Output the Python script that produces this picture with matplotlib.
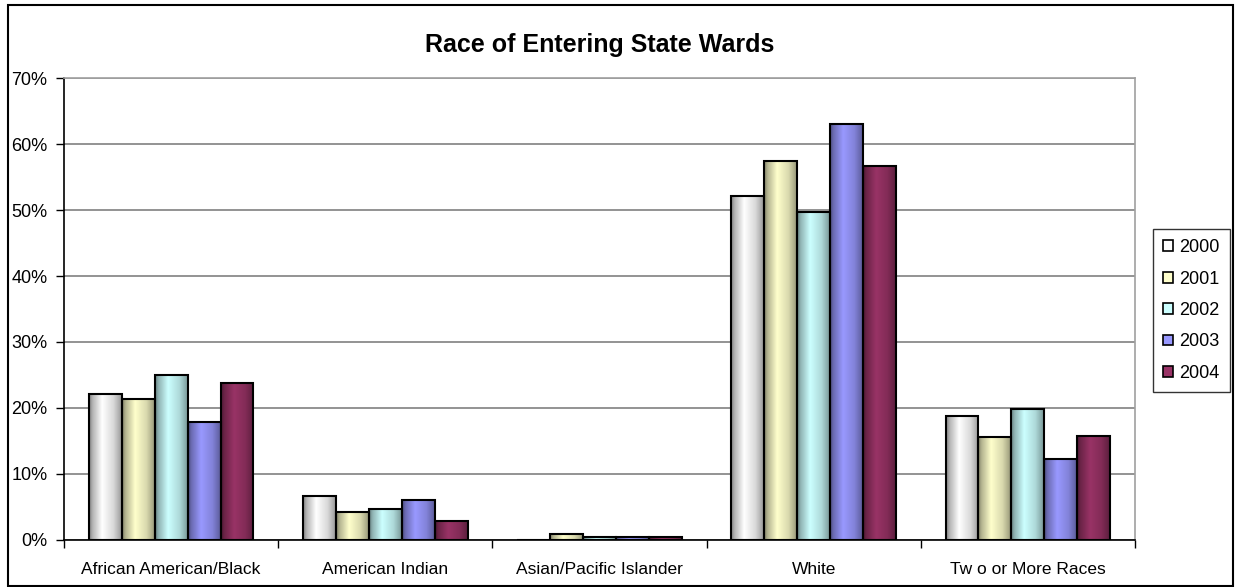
import numpy as np
import matplotlib
matplotlib.use("Agg")
import matplotlib.pyplot as plt
import matplotlib.patches as patches
from matplotlib.colors import to_rgb

plt.rcParams['font.family'] = ['Liberation Sans', 'DejaVu Sans']

categories = ["African American/Black", "American Indian", "Asian/Pacific Islander",
              "White", "Tw o or More Races"]
years = ["2000", "2001", "2002", "2003", "2004"]
colors = ["#FFFFFF", "#FFFFCC", "#CCFFFF", "#9999FF", "#993366"]

# percent of entering state wards, one list per year
v2000 = [22.1, 6.6, 0.0, 52.1, 18.8]
v2001 = [21.4, 4.2, 0.9, 57.5, 15.6]
v2002 = [25.0, 4.7, 0.5, 49.7, 19.8]
v2003 = [17.9, 6.1, 0.5, 63.1, 12.3]
v2004 = [23.8, 2.9, 0.5, 56.7, 15.7]
series = [v2000, v2001, v2002, v2003, v2004]

W, H = 1236, 587
fig = plt.figure(figsize=(W / 100, H / 100), dpi=100)
ax = fig.add_axes([64 / W, 47 / H, (1135 - 64) / W, (540 - 78) / H])

bw = 1 / 6.5
x = np.arange(len(categories))


def shade(c):
    # horizontal light/dark band to give the bars a rounded look
    t = np.linspace(0, 1, 64)
    f = np.interp(t, [0, 0.1, 0.4, 0.75, 1], [0.5, 0.7, 1.0, 0.85, 0.6])
    rgb = np.array(to_rgb(c))
    return (rgb[None, :] * f[:, None])[None, :, :]


for i, vals in enumerate(series):
    xs = x + (i - 2) * bw
    grad = shade(colors[i])
    for xc, v in zip(xs, vals):
        if v <= 0:
            continue
        ax.imshow(grad, extent=[xc - bw / 2, xc + bw / 2, 0, v],
                  aspect='auto', zorder=2, interpolation='bilinear')
    ax.bar(xs, vals, bw, facecolor='none', edgecolor='black',
           linewidth=1.5, zorder=3)

ax.set_xlim(-0.5, len(categories) - 0.5)
ax.set_ylim(0, 70)
ax.set_yticks(range(0, 71, 10))
ax.set_yticklabels([f"{v}%" for v in range(0, 71, 10)], fontsize=13)
ax.set_xticks(np.arange(len(categories) + 1) - 0.5)
ax.set_xticklabels([])
ax.set_xticks(x, minor=True)
ax.set_xticklabels(categories, minor=True, fontsize=12.5)
ax.tick_params(axis='x', which='minor', length=0, pad=16)
ax.tick_params(axis='x', which='major', length=6, width=1, color='black')
ax.tick_params(axis='y', length=6, width=1, pad=6)
ax.yaxis.grid(True, color='#808080', linewidth=1.2)
ax.set_axisbelow(True)

for s in ['top', 'right']:
    ax.spines[s].set_color('#A0A0A0')
    ax.spines[s].set_linewidth(1.2)
for s in ['left', 'bottom']:
    ax.spines[s].set_color('black')
    ax.spines[s].set_linewidth(1.2)

fig.text(600 / W, 1 - 45 / H, "Race of Entering State Wards", ha='center',
         va='center', fontsize=18, fontweight='bold')

handles = [patches.Patch(facecolor=c, edgecolor='black', linewidth=1.2) for c in colors]
leg = fig.legend(handles, years, loc='center',
                 bbox_to_anchor=(1155 / W, 1 - 393 / H, 73 / W, 165 / H),
                 fontsize=13, frameon=True, fancybox=False, labelspacing=0.8,
                 handlelength=0.55, handleheight=0.55, handletextpad=0.35,
                 borderpad=0.55, borderaxespad=0)
leg.get_frame().set_edgecolor('black')
leg.get_frame().set_linewidth(1)

fig.patches.append(patches.Rectangle((8 / W, 1 / H), (1233 - 8) / W, (582 - 1) / H,
                                     transform=fig.transFigure, fill=False,
                                     edgecolor='black', linewidth=1.5))

fig.savefig("out.png", dpi=100)
